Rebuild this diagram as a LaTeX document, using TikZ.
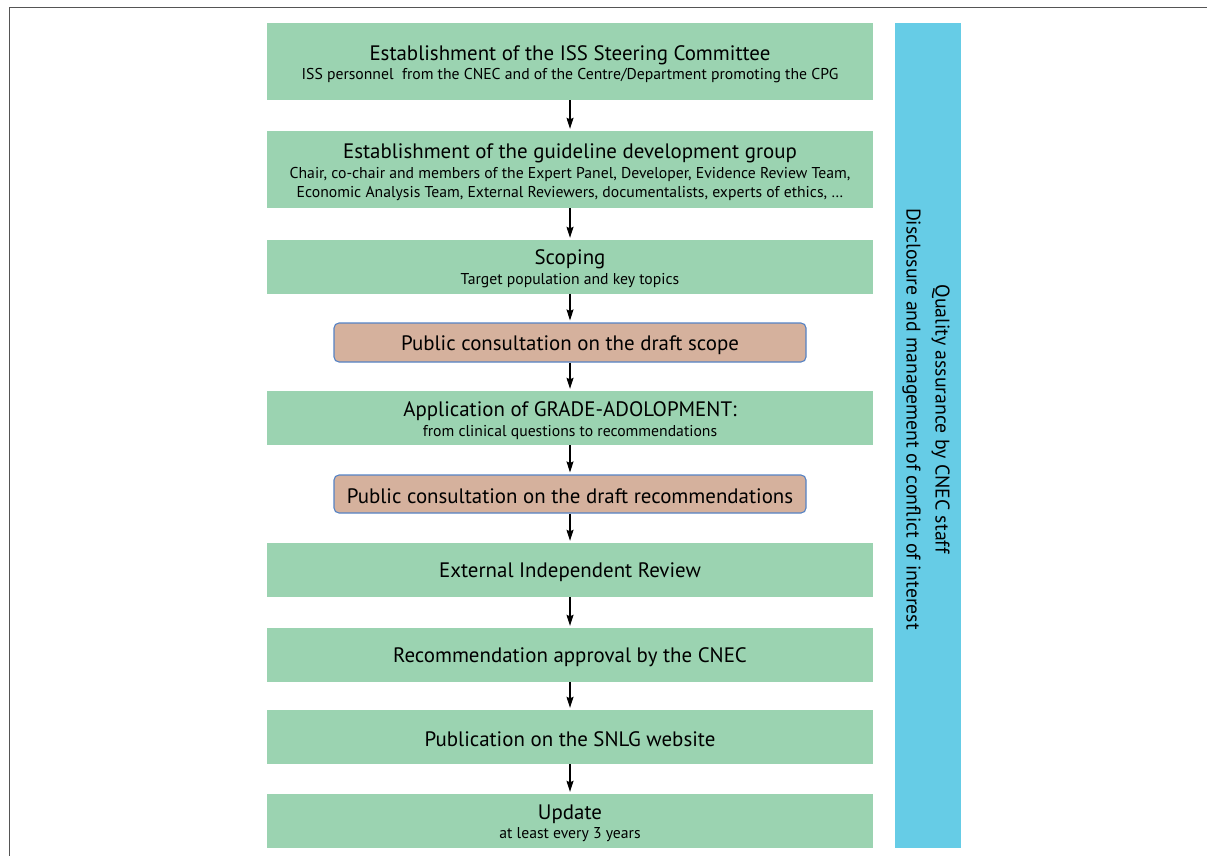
\documentclass[tikz,border=0pt]{standalone}
\usepackage{fontspec}
\setmainfont{PT Sans}
\usetikzlibrary{arrows.meta}
\definecolor{boxgreen}{RGB}{155,211,177}
\definecolor{boxtan}{RGB}{213,177,157}
\definecolor{boxblue}{RGB}{102,204,230}
\definecolor{edgeblue}{RGB}{84,130,196}
\definecolor{framegray}{RGB}{85,85,85}
\newcommand\ftl{\fontsize{20.9}{23}\selectfont\rule{0pt}{19.5pt}}
\newcommand\fsb{\fontsize{15.7}{21}\selectfont}
\tikzset{
  stepbox/.style={rectangle, fill=boxgreen, draw=none, minimum width=606pt, align=center, inner sep=0pt, font=\fsb},
  consult/.style={rectangle, rounded corners=5pt, fill=boxtan, draw=edgeblue, line width=1.1pt, minimum width=472pt, align=center, inner sep=0pt},
  flow/.style={-{Stealth[length=11pt,width=7pt,inset=1.5pt]}, line width=1.1pt, black, shorten >=2pt},
}
\begin{document}
\begin{tikzpicture}[x=1pt,y=-1pt]
\useasboundingbox (0,0) rectangle (1207,856);
\draw[framegray, line width=1.5pt] (9.5,860) -- (9.5,7.5) -- (1210,7.5);

\node[stepbox, minimum height=77pt] (s1) at (570,61.5)
  {{\ftl Establishment of the ISS Steering Committee}\\[-2pt]
   ISS personnel\ \ from the CNEC and of the Centre/Department promoting the CPG};
\node[stepbox, minimum height=77pt] (s2) at (570,169.5)
  {{\ftl Establishment of the guideline development group}\\[-1pt]
   Chair, co-chair and members of the Expert Panel, Developer, Evidence Review Team,\\[-2pt]
   Economic Analysis Team, External Reviewers, documentalists, experts of ethics, …};
\node[stepbox, minimum height=53.5pt] (s3) at (570,266.75)
  {{\ftl Scoping}\\[-1pt]Target population and key topics};
\node[consult, minimum height=39pt] (c1) at (570,342.5)
  {\ftl Public consultation on the draft scope};
\node[stepbox, minimum height=54pt] (s4) at (570,418)
  {{\ftl Application of GRADE-ADOLOPMENT:}\\[-1pt]from clinical questions to recommendations};
\node[consult, minimum height=38pt] (c2) at (570,494)
  {\ftl Public consultation on the draft recommendations};
\node[stepbox, minimum height=54pt] (s5) at (570,570)
  {\ftl External Independent Review};
\node[stepbox, minimum height=54pt] (s6) at (570,655)
  {\ftl Recommendation approval by the CNEC};
\node[stepbox, minimum height=54pt] (s7) at (570,737)
  {\ftl Publication on the SNLG website};
\node[stepbox, minimum height=54pt] (s8) at (570,821)
  {{\ftl Update}\\[-2pt]at least every 3 years};

\node[rectangle, fill=boxblue, minimum width=66pt, minimum height=825pt, inner sep=0pt] (qa) at (928,435.5) {};
\node[rotate=-90, align=center, inner sep=0pt, font=\fontsize{19.8}{29}\selectfont] (qatext) at (926,419)
  {Quality assurance by CNEC staff\\Disclosure and management of conflict of interest};

\draw[flow] (s1) -- (s2);
\draw[flow] (s2) -- (s3);
\draw[flow] (s3) -- (c1);
\draw[flow] (c1) -- (s4);
\draw[flow] (s4) -- (c2);
\draw[flow] (c2) -- (s5);
\draw[flow] (s5) -- (s6);
\draw[flow] (s6) -- (s7);
\draw[flow] (s7) -- (s8);
\end{tikzpicture}
\end{document}
